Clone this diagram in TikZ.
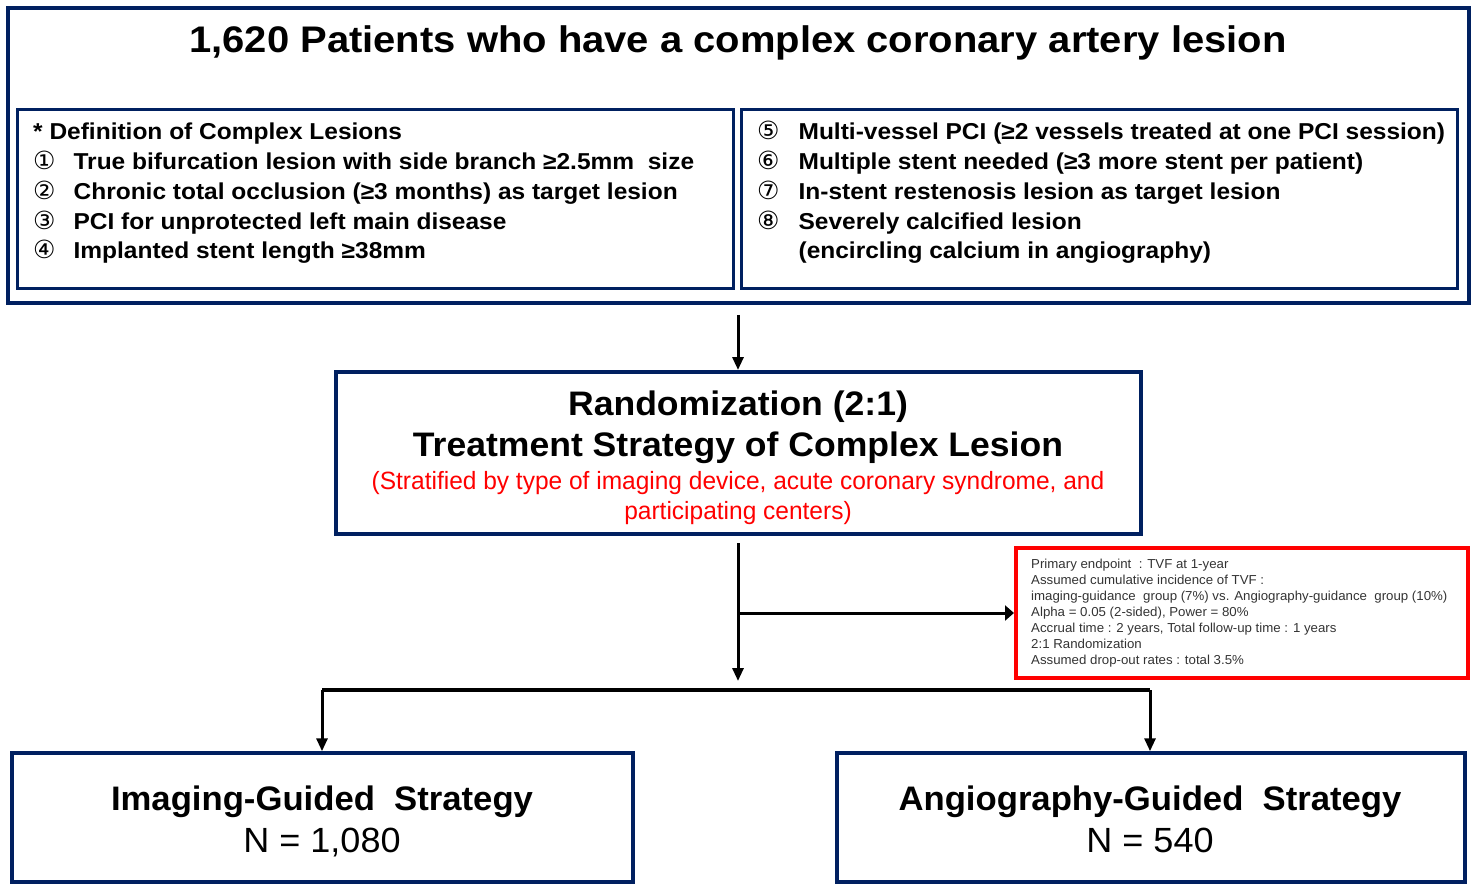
\documentclass[tikz,border=0pt]{standalone}
\usepackage{fontspec}
\setmainfont{Liberation Sans}
\newfontfamily\titlefont[FakeStretch=1.08]{Liberation Sans}
\newfontfamily\listfont[FakeStretch=1.065]{Liberation Sans}
\newfontfamily\randfont[FakeStretch=1.046]{Liberation Sans}
\newfontfamily\redfont[FakeStretch=0.98]{Liberation Sans}
\newfontfamily\smallfont[FakeStretch=1.02]{Liberation Sans}
\newfontfamily\botfont[FakeStretch=1.02]{Liberation Sans}
\newfontfamily\nfont[FakeStretch=1.03]{Liberation Sans}
\newfontfamily\symfont{DejaVu Sans}
\usetikzlibrary{arrows.meta}
\definecolor{navy}{RGB}{0,32,96}
\definecolor{brightred}{RGB}{255,0,0}
\newcommand{\cn}[1]{{\symfont\mdseries\fontsize{25}{25}\selectfont #1}}
\begin{document}
\begin{tikzpicture}[x=1pt,y=-1pt,
  navybox/.style={draw=navy,line width=#1,inner sep=0pt,fill=white},
  navybox/.default=3.5pt,
  redbox/.style={draw=brightred,line width=4pt,inner sep=0pt},
  txt/.style={inner sep=0pt,anchor=base west},
  ctxt/.style={inner sep=0pt,anchor=base},
  arr/.style={line width=3pt,-{Triangle[length=13pt,width=11pt]}},
  sidearr/.style={line width=3pt,-{Triangle[length=9pt,width=15pt]}},
  conn/.style={line width=3.5pt}]
\useasboundingbox (0,0) rectangle (1475,885);

% outer box
\node[navybox=4pt,minimum width=1461pt,minimum height=295pt] (outer) at (738.5,155.5) {};
\node[ctxt] (title) at (738,53) {\titlefont\bfseries\fontsize{37}{40}\selectfont 1,620 Patients who have a complex coronary artery lesion};

% definition boxes
\node[navybox=3pt,minimum width=716pt,minimum height=179pt] (defL) at (375,199.5) {};
\node[navybox=3pt,minimum width=716pt,minimum height=179pt] (defR) at (1099,199.5) {};

\node[txt] (listL) at (33,140) {\listfont\bfseries\fontsize{23}{29.75}\selectfont
\begin{tabular}[t]{@{}l@{\hspace{18pt}}l@{}}
\multicolumn{2}{@{}l@{}}{* Definition of Complex Lesions}\\
\cn{①} & True bifurcation lesion with side branch ≥2.5mm\ \ size\\
\cn{②} & Chronic total occlusion (≥3 months) as target lesion\\
\cn{③} & PCI for unprotected left main disease\\
\cn{④} & Implanted stent length ≥38mm
\end{tabular}};

\node[txt] (listR) at (757,140) {\listfont\bfseries\fontsize{23}{29.75}\selectfont
\begin{tabular}[t]{@{}l@{\hspace{19pt}}l@{}}
\cn{⑤} & Multi-vessel PCI (≥2 vessels treated at one PCI session)\\
\cn{⑥} & Multiple stent needed (≥3 more stent per patient)\\
\cn{⑦} & In-stent restenosis lesion as target lesion\\
\cn{⑧} & Severely calcified lesion\\
 & (encircling calcium\ in angiography)
\end{tabular}};

% randomization
\node[navybox=4pt,minimum width=805pt,minimum height=162pt] (rand) at (738.5,453) {};
\node[ctxt] (rand1) at (738,415) {\randfont\bfseries\fontsize{34}{40}\selectfont Randomization (2:1)};
\node[ctxt] (rand2) at (738,456) {\randfont\bfseries\fontsize{34}{40}\selectfont Treatment Strategy of Complex Lesion};
\node[ctxt] (rand3) at (738,489) {\redfont\color{brightred}\fontsize{25}{30}\selectfont (Stratified by type of imaging device, acute coronary syndrome, and};
\node[ctxt] (rand4) at (738,519) {\redfont\color{brightred}\fontsize{25}{30}\selectfont participating centers)};

% sample size box
\node[redbox,minimum width=452pt,minimum height=130pt] (ss) at (1242,613) {};
\node[txt] (sstext) at (1031,568) {\smallfont\color{black!80}\fontsize{13}{16}\selectfont
\begin{tabular}[t]{@{}l@{}}
Primary endpoint\ \ : TVF at 1-year\\
Assumed\ cumulative incidence\ of TVF :\\
imaging-guidance\ \ group\ (7\%)\ vs. Angiography-guidance\ \ group\ (10\%)\\
Alpha\ = 0.05 (2-sided),\ Power\ = 80\%\\
Accrual time : 2 years, Total\ follow-up\ time : 1 years\\
2:1 Randomization\\
Assumed\ drop-out\ rates : total 3.5\%
\end{tabular}};

% bottom boxes
\node[navybox=3.5pt,minimum width=621pt,minimum height=129pt] (img) at (322.5,817.5) {};
\node[ctxt] (img1) at (322,810) {\botfont\bfseries\fontsize{34}{40}\selectfont Imaging-Guided\ \ Strategy};
\node[ctxt] (img2) at (322,852) {\nfont\fontsize{35}{40}\selectfont N = 1,080};

\node[navybox=3.5pt,minimum width=628pt,minimum height=129pt] (ang) at (1151,817.5) {};
\node[ctxt] (ang1) at (1150,810) {\botfont\bfseries\fontsize{34}{40}\selectfont Angiography-Guided\ \ Strategy};
\node[ctxt] (ang2) at (1150,852) {\nfont\fontsize{35}{40}\selectfont N = 540};

% connectors
\coordinate (a1s) at (738,315);
\draw[arr] (a1s) -- (rand.north -| a1s);
\coordinate (a2s) at (738,543);
\coordinate (a2e) at (738,681);
\coordinate (branch) at (738,613);
\draw[arr] (a2s) -- (a2e);
\draw[sidearr] (branch) -- (ss.west |- branch);
\coordinate (jl) at (322,690);
\coordinate (jr) at (1150,690);
\draw[conn] (jl) -- (jr);
\draw[arr] (jl) -- (img.north -| jl);
\draw[arr] (jr) -- (ang.north -| jr);
\end{tikzpicture}
\end{document}
